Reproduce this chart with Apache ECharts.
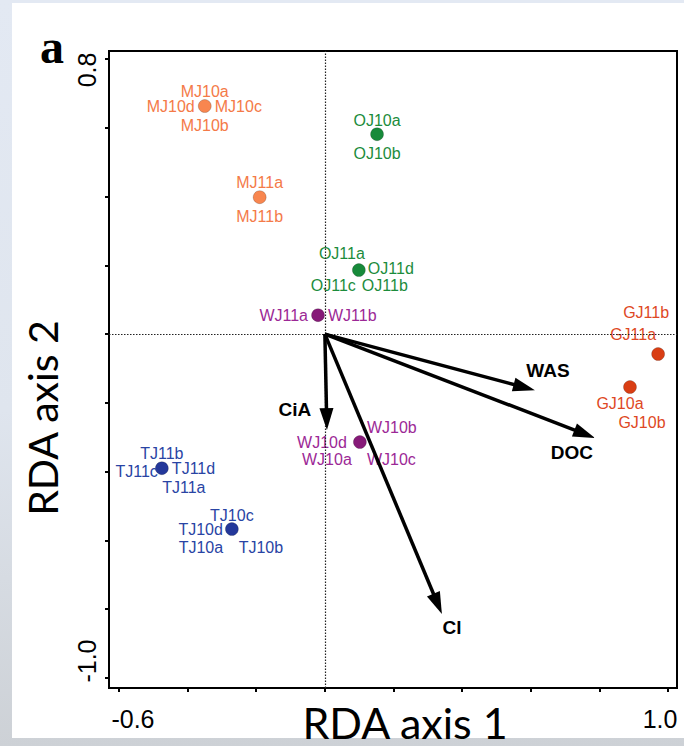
<!DOCTYPE html>
<html><head><meta charset="utf-8">
<script src="https://cdn.jsdelivr.net/npm/echarts@6/dist/echarts.min.js"></script>
<style>
html,body{margin:0;padding:0;width:684px;height:746px;overflow:hidden;}
body{background:linear-gradient(180deg,#e3e9f3 0%,#dfe5ee 55%,#cdd1d6 100%);position:relative;}
#panel{position:absolute;left:12px;top:3px;width:672px;height:735px;background:#fff;}
#chart{position:absolute;left:0;top:0;width:684px;height:746px;}
</style></head><body>
<div id="panel"></div><div id="chart"></div>
<script>
// ---- data ----
const siteNames = ['MJ10','MJ11','OJ10','OJ11','WJ11','WJ10','GJ11','GJ10','TJ11','TJ10'];
const siteX = [-0.350,-0.190, 0.152, 0.099,-0.020, 0.102, 0.971, 0.889,-0.475,-0.271];
const siteY = [ 0.663, 0.398, 0.581, 0.186, 0.055,-0.314,-0.058,-0.154,-0.390,-0.567];
const siteSamples = [
  ['MJ10a','MJ10d','MJ10c','MJ10b'],
  ['MJ11a','MJ11b'],
  ['OJ10a','OJ10b'],
  ['OJ11a','OJ11d','OJ11c','OJ11b'],
  ['WJ11a','WJ11b'],
  ['WJ10b','WJ10d','WJ10a','WJ10c'],
  ['GJ11b','GJ11a'],
  ['GJ10a','GJ10b'],
  ['TJ11b','TJ11c','TJ11d','TJ11a'],
  ['TJ10c','TJ10d','TJ10a','TJ10b']
];
const envNames = ['CiA','Cl','WAS','DOC'];
const envX = [0.006, 0.341, 0.612, 0.787];
const envY = [-0.279,-0.814,-0.163,-0.302];
const xTickValues = [-0.6,-0.4,-0.2,0,0.2,0.4,0.6,0.8,1.0];
const yTickValues = [0.8,0.6,0.4,0.2,0,-0.2,-0.4,-0.6,-0.8,-1.0];
const xTickLabels = ['-0.6','1.0'];
const xTickLabelValues = [-0.6,1.0];
const yTickLabels = ['0.8','-1.0'];
const yTickLabelValues = [0.8,-1.0];

// ---- styles ----
const groupColor = {MJ:'#F8864F', OJ:'#178A3A', WJ:'#861A78', GJ:'#D93E14', TJ:'#24389A'};
const groupLabelColor = {MJ:'#F47A48', OJ:'#1C8C3C', WJ:'#9C2896', GJ:'#DE4824', TJ:'#2944A4'};
// [dx, dy, align]
const labelPlace = {
  MJ10a:[0,-15,'center'], MJ10d:[-10,0,'right'], MJ10c:[10,0,'left'], MJ10b:[0,19,'center'],
  MJ11a:[0,-15,'center'], MJ11b:[0,19,'center'],
  OJ10a:[0,-14,'center'], OJ10b:[0,19,'center'],
  OJ11a:[-17,-17,'center'], OJ11d:[9,-2,'left'], OJ11c:[-3,15,'right'], OJ11b:[3,15,'left'],
  WJ11a:[-10,0,'right'], WJ11b:[10,0,'left'],
  WJ10b:[7,-15,'left'], WJ10d:[-13,0,'right'], WJ10a:[-33,17,'center'], WJ10c:[7,17,'left'],
  GJ11b:[-12,-42,'center'], GJ11a:[-25,-20,'center'],
  GJ10a:[-10,16,'center'], GJ10b:[12,35,'center'],
  TJ11b:[0,-15,'center'], TJ11c:[-4,3,'right'], TJ11d:[10,0,'left'], TJ11a:[22,19,'center'],
  TJ10c:[0,-14,'center'], TJ10d:[-9,0,'right'], TJ10a:[-31,18,'center'], TJ10b:[29,18,'center']
};
const envLabelPlace = {CiA:[-32,-21], Cl:[10,13], WAS:[13,-20], DOC:[-23,15]};

const pointData = siteNames.map((n,i)=>{
  const g = n.slice(0,2);
  return {name:n, value:[siteX[i], siteY[i]], itemStyle:{color:groupColor[g], opacity:1, borderColor:'rgba(0,0,0,0.3)', borderWidth:0.6}};
});
const labelData = [];
siteNames.forEach((n,i)=>{
  const g = n.slice(0,2);
  siteSamples[i].forEach(s=>{
    const p = labelPlace[s];
    labelData.push({name:s, value:[siteX[i], siteY[i]],
      label:{show:true, formatter:s, position:'inside', offset:[p[0],p[1]], align:p[2], verticalAlign:'middle',
        color:groupLabelColor[g], opacity:1, fontSize:16, fontFamily:'Liberation Sans, Arial, sans-serif'}});
  });
});
const envData = envNames.map((n,i)=>({name:n, value:[envX[i], envY[i]]}));

function findLabel(v, vals, texts){
  for (let i=0;i<vals.length;i++) if (Math.abs(v-vals[i])<1e-9) return texts[i];
  return '';
}

const chart = echarts.init(document.getElementById('chart'), null, {renderer:'svg'});
chart.setOption({
  backgroundColor:'transparent',
  animation:false,
  grid:{left:109, right:7, top:51, bottom:58, show:true, borderColor:'#000', borderWidth:2, backgroundColor:'transparent'},
  xAxis:{type:'value', min:-0.629, max:1.026,
    axisLine:{show:true, onZero:false, lineStyle:{color:'#000', width:2}},
    axisTick:{show:true, customValues:xTickValues, length:4, lineStyle:{color:'#000', width:2}},
    axisLabel:{show:true, customValues:xTickLabelValues, margin:18, color:'#000', fontSize:25,
      fontFamily:'Liberation Sans, Arial, sans-serif',
      formatter:(v)=>{ const t=findLabel(v,xTickLabelValues,xTickLabels); return t==='-0.6' ? '{l|'+t+'}' : '{r|'+t+'}'; },
      rich:{l:{padding:[0,0,0,28], fontSize:25, color:'#000'}, r:{padding:[0,16,0,0], fontSize:25, color:'#000'}}},
    splitLine:{show:false}},
  yAxis:{type:'value', min:-1.029, max:0.823,
    axisLine:{show:true, onZero:false, lineStyle:{color:'#000', width:2}},
    axisTick:{show:true, customValues:yTickValues, length:4, lineStyle:{color:'#000', width:2}},
    axisLabel:{show:true, customValues:yTickLabelValues, rotate:90, margin:10, color:'#000', fontSize:25,
      fontFamily:'Liberation Sans, Arial, sans-serif',
      formatter:(v)=>{ const t=findLabel(v,yTickLabelValues,yTickLabels); return t==='0.8' ? '{t|'+t+'}' : '{b|'+t+'}'; },
      rich:{t:{padding:[0,22,0,0], fontSize:25, color:'#000'}, b:{padding:[0,0,0,34], fontSize:25, color:'#000'}}},
    splitLine:{show:false}},
  graphic:[
    {type:'text', x:40, y:22, style:{text:'a', font:'bold 48px "Liberation Serif", serif', fill:'#000'}},
    {type:'text', x:405, y:722, style:{text:'RDA axis 1', font:'43px Lato, sans-serif', fill:'#000', align:'center', verticalAlign:'middle', textAlign:'center', textVerticalAlign:'middle'}},
    {type:'text', x:42, y:418, rotation:Math.PI/2, style:{text:'RDA axis 2', font:'41px Lato, sans-serif', fill:'#000', align:'center', verticalAlign:'middle', textAlign:'center', textVerticalAlign:'middle'}}
  ],
  series:[
    {type:'scatter', symbolSize:13, data:pointData, z:3, itemStyle:{opacity:1},
      markLine:{silent:true, symbol:'none', label:{show:false}, animation:false,
        lineStyle:{type:[1.5,1.5], color:'#222', width:1.2},
        data:[{xAxis:0},{yAxis:0}]}},
    {type:'scatter', symbolSize:1, itemStyle:{color:'rgba(0,0,0,0)', opacity:1}, data:labelData, z:4},
    {type:'custom', z:5, data:envData,
      renderItem:(params, api)=>{
        const o = api.coord([0,0]);
        const t = api.coord([api.value(0), api.value(1)]);
        const dx=t[0]-o[0], dy=t[1]-o[1]; const L=Math.hypot(dx,dy);
        const ux=dx/L, uy=dy/L, hl=22, hw=7;
        const bx=t[0]-ux*hl, by=t[1]-uy*hl, px=-uy, py=ux;
        const name = envNames[params.dataIndex];
        const off = envLabelPlace[name];
        return {type:'group', children:[
          {type:'line', shape:{x1:o[0],y1:o[1],x2:bx+ux*3,y2:by+uy*3}, style:{stroke:'#000', lineWidth:3.5}},
          {type:'polygon', shape:{points:[[t[0],t[1]],[bx+px*hw,by+py*hw],[bx-px*hw,by-py*hw]]}, style:{fill:'#000'}},
          {type:'text', x:t[0]+off[0], y:t[1]+off[1], style:{text:name, fill:'#000', font:'bold 19px "Liberation Sans", Arial, sans-serif', align:'center', verticalAlign:'middle', textAlign:'center', textVerticalAlign:'middle'}}
        ]};
      }}
  ]
});
</script>
</body></html>
